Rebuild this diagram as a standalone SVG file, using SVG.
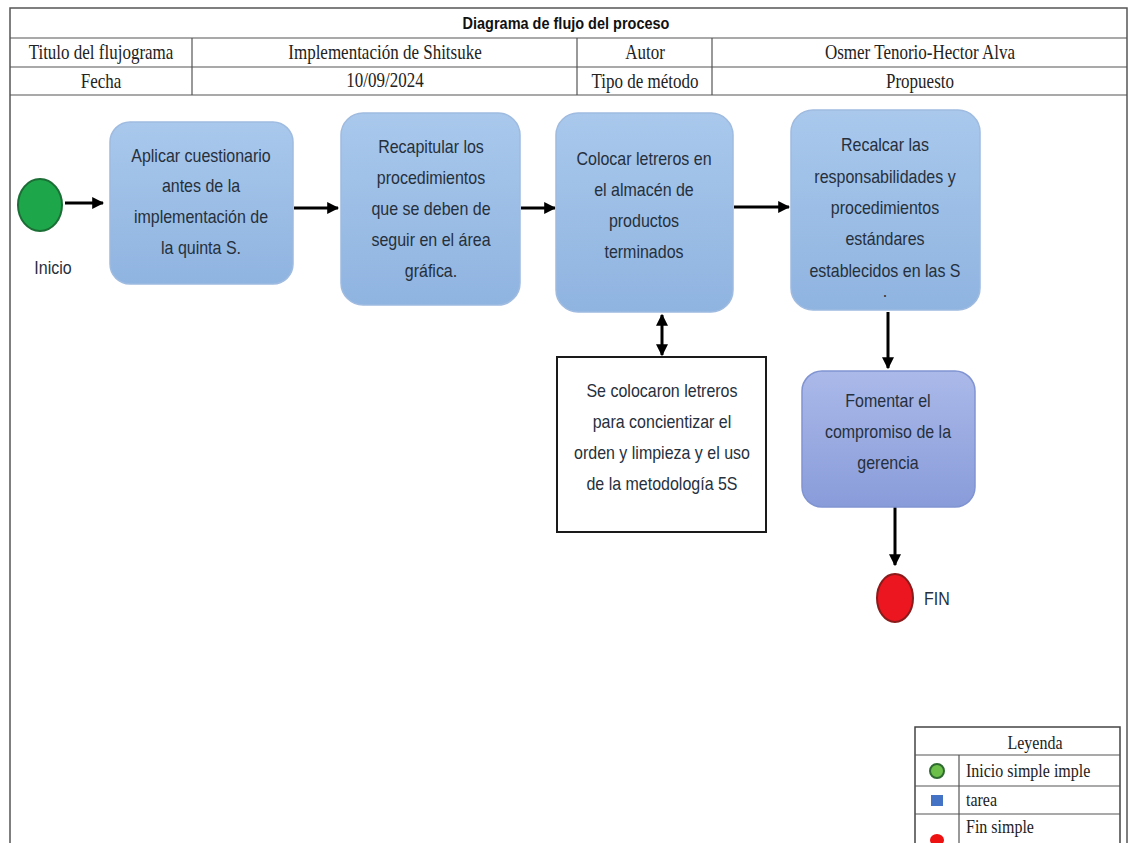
<svg xmlns="http://www.w3.org/2000/svg" width="1130" height="843" viewBox="0 0 1130 843">
<style>
.frame{fill:none;stroke:#555;stroke-width:1.5}
.grid{stroke:#555;stroke-width:1.2}
.hdr{font-family:"Liberation Serif",serif;font-size:17px;fill:#222;text-anchor:middle}
.ttl{font-family:"Liberation Sans",sans-serif;font-size:14.5px;font-weight:bold;fill:#111;text-anchor:middle}
.body{font-family:"Liberation Sans",sans-serif;font-size:16px;fill:#26303c;text-anchor:middle}
.lbl{font-family:"Liberation Sans",sans-serif;font-size:16px;fill:#26303c}
.leg{font-family:"Liberation Serif",serif;font-size:16px;fill:#222}
.hdr,.ttl,.body,.lbl,.leg{transform-box:fill-box;transform-origin:center;transform:scaleY(1.2)}
.task{fill:url(#gBlue);stroke:#9fbbe0;stroke-width:1.5}
.task2{fill:url(#gPurple);stroke:#8194d2;stroke-width:1.5}
.conn{stroke:#000;stroke-width:3;fill:none}
</style>
<defs>
<linearGradient id="gBlue" x1="0" y1="0" x2="0" y2="1">
<stop offset="0" stop-color="#a9c8ec"/>
<stop offset="1" stop-color="#8fb4e0"/>
</linearGradient>
<linearGradient id="gPurple" x1="0" y1="0" x2="0" y2="1">
<stop offset="0" stop-color="#abb9e9"/>
<stop offset="1" stop-color="#899cda"/>
</linearGradient>
<marker id="ah" viewBox="0 0 10 10" refX="9" refY="5" markerWidth="4" markerHeight="4" orient="auto-start-reverse" markerUnits="strokeWidth">
<path d="M0,0 L10,5 L0,10 z" fill="#000"/>
</marker>
</defs>
<rect width="1130" height="843" fill="#fff"/>

<g id="header">
<path class="frame" d="M10,843 V8 H1127 V843"/>
<line class="grid" x1="10" y1="38" x2="1127" y2="38"/>
<line class="grid" x1="10" y1="67" x2="1127" y2="67"/>
<line class="grid" x1="10" y1="95" x2="1127" y2="95"/>
<line class="grid" x1="192" y1="38" x2="192" y2="95"/>
<line class="grid" x1="577" y1="38" x2="577" y2="95"/>
<line class="grid" x1="712" y1="38" x2="712" y2="95"/>
<text class="ttl" x="566" y="28">Diagrama de flujo del proceso</text>
<text class="hdr" x="101" y="58">Titulo del flujograma</text>
<text class="hdr" x="385" y="58">Implementación de Shitsuke</text>
<text class="hdr" x="645" y="58">Autor</text>
<text class="hdr" x="920" y="58">Osmer Tenorio-Hector Alva</text>
<text class="hdr" x="101" y="87">Fecha</text>
<text class="hdr" x="385" y="86">10/09/2024</text>
<text class="hdr" x="645" y="87">Tipo de método</text>
<text class="hdr" x="920" y="87">Propuesto</text>
</g>

<g id="connectors">
<line class="conn" x1="65" y1="203" x2="103" y2="203" marker-end="url(#ah)"/>
<line class="conn" x1="294" y1="208" x2="338" y2="208" marker-end="url(#ah)"/>
<line class="conn" x1="521" y1="208" x2="555" y2="208" marker-end="url(#ah)"/>
<line class="conn" x1="734" y1="207" x2="789" y2="207" marker-end="url(#ah)"/>
<line class="conn" x1="662" y1="315" x2="662" y2="355" marker-start="url(#ah)" marker-end="url(#ah)"/>
<line class="conn" x1="888" y1="312" x2="888" y2="368" marker-end="url(#ah)"/>
<line class="conn" x1="895" y1="507" x2="895" y2="565" marker-end="url(#ah)"/>
</g>

<g id="inicio">
<ellipse cx="40" cy="205" rx="22" ry="26" fill="#1ea64a" stroke="#1b6e35" stroke-width="2"/>
<text class="lbl" x="53" y="273" text-anchor="middle">Inicio</text>
</g>

<g id="task1">
<rect class="task" x="110" y="122" width="183" height="162" rx="20"/>
<text class="body" x="201" y="161">Aplicar cuestionario</text>
<text class="body" x="201" y="191">antes de la</text>
<text class="body" x="201" y="222">implementación de</text>
<text class="body" x="201" y="253">la quinta S.</text>
</g>

<g id="task2">
<rect class="task" x="341" y="113" width="179" height="192" rx="22"/>
<text class="body" x="431" y="152">Recapitular los</text>
<text class="body" x="431" y="183">procedimientos</text>
<text class="body" x="431" y="214">que se deben de</text>
<text class="body" x="431" y="245">seguir en el área</text>
<text class="body" x="431" y="276">gráfica.</text>
</g>

<g id="task3">
<rect class="task" x="556" y="113" width="177" height="199" rx="22"/>
<text class="body" x="644" y="164">Colocar letreros en</text>
<text class="body" x="644" y="195">el almacén de</text>
<text class="body" x="644" y="226">productos</text>
<text class="body" x="644" y="257">terminados</text>
</g>

<g id="task4">
<rect class="task" x="791" y="110" width="189" height="200" rx="22"/>
<text class="body" x="885" y="150">Recalcar las</text>
<text class="body" x="885" y="182">responsabilidades y</text>
<text class="body" x="885" y="213">procedimientos</text>
<text class="body" x="885" y="244">estándares</text>
<text class="body" x="885" y="276">establecidos en las S</text>
<text class="body" x="885" y="296">.</text>
</g>

<g id="nota">
<rect x="557" y="357" width="209" height="175" fill="#fff" stroke="#1a1a1a" stroke-width="2"/>
<text class="body" x="662" y="396">Se colocaron letreros</text>
<text class="body" x="662" y="427">para concientizar el</text>
<text class="body" x="662" y="458">orden y limpieza y el uso</text>
<text class="body" x="662" y="489">de la metodología 5S</text>
</g>

<g id="task5">
<rect class="task2" x="802" y="371" width="173" height="136" rx="20"/>
<text class="body" x="888" y="406">Fomentar el</text>
<text class="body" x="888" y="437">compromiso de la</text>
<text class="body" x="888" y="468">gerencia</text>
</g>

<g id="fin">
<ellipse cx="895" cy="598" rx="18" ry="24" fill="#ec1620" stroke="#8b1a1a" stroke-width="2"/>
<text class="lbl" x="924" y="604">FIN</text>
</g>

<g id="leyenda">
<rect x="915" y="727" width="205" height="120" fill="#fff" stroke="#444" stroke-width="1.5"/>
<line class="grid" x1="915" y1="755" x2="1120" y2="755"/>
<line class="grid" x1="915" y1="786" x2="1120" y2="786"/>
<line class="grid" x1="915" y1="814" x2="1120" y2="814"/>
<line class="grid" x1="959" y1="755" x2="959" y2="843"/>
<text class="leg" x="1035" y="748" text-anchor="middle">Leyenda</text>
<circle cx="937" cy="771" r="7" fill="#6cc04a" stroke="#2e6b30" stroke-width="2"/>
<text class="leg" x="966" y="776">Inicio simple imple</text>
<rect x="931" y="795" width="12" height="11" fill="#4472c4"/>
<text class="leg" x="966" y="805">tarea</text>
<ellipse cx="937" cy="840" rx="7" ry="6" fill="#ee1111"/>
<text class="leg" x="966" y="832">Fin simple</text>
</g>
</svg>
